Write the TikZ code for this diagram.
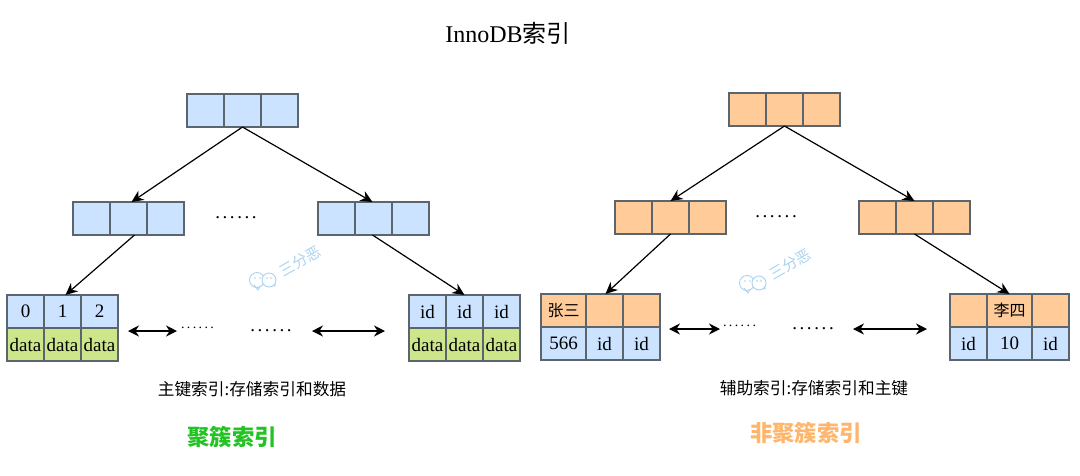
\documentclass[tikz,border=0pt]{standalone}
\usepackage{fontspec}
\setmainfont{Liberation Serif}
\newfontfamily\cjk{Noto Sans CJK SC}
\usetikzlibrary{arrows.meta}
\definecolor{cellblue}{HTML}{CCE3FF}
\definecolor{cellorange}{HTML}{FFCC99}
\definecolor{cellgreen}{HTML}{CDE68A}
\definecolor{celledge}{HTML}{5A6570}
\definecolor{wm}{HTML}{A9D3F0}
\definecolor{headgreen}{HTML}{22C322}
\definecolor{headorange}{HTML}{FFB56B}
\newcommand\sixdots[1]{.\kern#1.\kern#1.\kern#1.\kern#1.\kern#1.}
\tikzset{
  x=1pt,y=-1pt,
  cell/.style={draw=celledge,line width=1.2pt,inner sep=0pt,outer sep=0pt,anchor=north west,
    minimum height=33pt,font=\fontsize{19}{21}\selectfont},
  cblue/.style={cell,fill=cellblue},
  corange/.style={cell,fill=cellorange},
  cgreen/.style={cell,fill=cellgreen},
  w37/.style={minimum width=37pt},
  link/.style={draw=black,line width=1.2pt,-{Stealth[length=12pt,width=11pt]}},
  both/.style={draw=black,line width=1.2pt,{Stealth[length=11pt,width=11pt]}-{Stealth[length=11pt,width=11pt]}},
  dotsbig/.style={inner sep=0pt,font=\fontsize{19}{20}\selectfont},
  dotssmall/.style={inner sep=0pt,font=\fontsize{14}{16}\selectfont},
  caption/.style={inner sep=0pt,font=\cjk\fontsize{16.7}{18}\selectfont},
  heading/.style={inner sep=0pt,font=\cjk\bfseries\fontsize{22.3}{24}\selectfont},
  bubble/.style={draw=wm,line width=0.9pt},
}
\begin{document}
\begin{tikzpicture}
\useasboundingbox (0,0) rectangle (1080,475);
\node[inner sep=0pt,font=\fontsize{24}{26}\selectfont] (title) at (508,33) {InnoDB{\cjk 索引}};

% left tree
\node[cblue,w37] (r1) at (187,94) {};
\node[cblue,w37] (r2) at (224,94) {};
\node[cblue,w37] (r3) at (261,94) {};
\node[cblue,w37] (a1) at (73,202) {};
\node[cblue,w37] (a2) at (110,202) {};
\node[cblue,w37] (a3) at (147,202) {};
\node[cblue,w37] (b1) at (318,202) {};
\node[cblue,w37] (b2) at (355,202) {};
\node[cblue,w37] (b3) at (392,202) {};
\node[cblue,w37] (c1) at (7,295) {0};
\node[cblue,w37] (c2) at (44,295) {1};
\node[cblue,w37] (c3) at (81,295) {2};
\node[cgreen,w37] (d1) at (7,328) {data};
\node[cgreen,w37] (d2) at (44,328) {data};
\node[cgreen,w37] (d3) at (81,328) {data};
\node[cblue,w37] (e1) at (409,295) {id};
\node[cblue,w37] (e2) at (446,295) {id};
\node[cblue,w37] (e3) at (483,295) {id};
\node[cgreen,w37] (f1) at (409,328) {data};
\node[cgreen,w37] (f2) at (446,328) {data};
\node[cgreen,w37] (f3) at (483,328) {data};
\draw[link] (r2.south) -- ([xshift=3pt]a2.north);
\draw[link] (r2.south) -- ([xshift=-1pt]b2.north);
\draw[link] ([xshift=6pt]a2.south) -- ([xshift=3pt]c2.north);
\draw[link] ([xshift=-1pt]b2.south) -- (e2.north);
\node[dotsbig] (dl1) at (236,218) {\sixdots{2.6pt}};
\node[dotssmall] (dl2) at (197.5,328) {\sixdots{2.4pt}};
\node[dotsbig] (dl3) at (271,331) {\sixdots{2.6pt}};
\coordinate (p1) at (128,331); \coordinate (p2) at (177,331);
\coordinate (p3) at (312,331); \coordinate (p4) at (385,331);
\draw[both] (p1) -- (p2);
\draw[both] (p3) -- (p4);
\node[caption] (cl) at (252,389) {主键索引:存储索引和数据};
\node[heading,text=headgreen] (hl) at (232,437) {聚簇索引};

% right tree
\node[corange,w37] (s1) at (729,93) {};
\node[corange,w37] (s2) at (766,93) {};
\node[corange,w37] (s3) at (803,93) {};
\node[corange,w37] (g1) at (615,201) {};
\node[corange,w37] (g2) at (652,201) {};
\node[corange,w37] (g3) at (689,201) {};
\node[corange,w37] (h1) at (859,201) {};
\node[corange,w37] (h2) at (896,201) {};
\node[corange,w37] (h3) at (933,201) {};
\node[corange,minimum width=45pt] (i1) at (541,294) {\cjk\fontsize{16}{18}\selectfont 张三};
\node[corange,minimum width=37pt] (i2) at (586,294) {};
\node[corange,minimum width=37pt] (i3) at (623,294) {};
\node[cblue,minimum width=45pt] (j1) at (541,327) {566};
\node[cblue,minimum width=37pt] (j2) at (586,327) {id};
\node[cblue,minimum width=37pt] (j3) at (623,327) {id};
\node[corange,minimum width=37pt] (k1) at (950,294) {};
\node[corange,minimum width=45pt] (k2) at (987,294) {\cjk\fontsize{16}{18}\selectfont 李四};
\node[corange,minimum width=37pt] (k3) at (1032,294) {};
\node[cblue,minimum width=37pt] (l1) at (950,327) {id};
\node[cblue,minimum width=45pt] (l2) at (987,327) {10};
\node[cblue,minimum width=37pt] (l3) at (1032,327) {id};
\draw[link] (s2.south) -- (g2.north);
\draw[link] (s2.south) -- (h2.north);
\draw[link] (g2.south) -- ([xshift=1pt]i2.north);
\draw[link] (h2.south) -- (k2.north);
\node[dotsbig] (dr1) at (776,217) {\sixdots{2.6pt}};
\node[dotssmall] (dr2) at (739.5,326) {\sixdots{2.4pt}};
\node[dotsbig] (dr3) at (813,329) {\sixdots{2.6pt}};
\coordinate (q1) at (669,329); \coordinate (q2) at (720,329);
\coordinate (q3) at (853,329); \coordinate (q4) at (927,329);
\draw[both] (q1) -- (q2);
\draw[both] (q3) -- (q4);
\node[caption] (cr) at (814,388) {辅助索引:存储索引和主键};
\node[heading,text=headorange] (hr) at (806,433) {非聚簇索引};

% watermarks
\foreach \wx/\wy in {263/280,753/283}{
  \begin{scope}[shift={(\wx,\wy)}]
    \draw[bubble] (-9,5) -- (-5,10) -- (-3,6);
    \draw[bubble] (8,4) -- (12,6) -- (12,1);
    \draw[bubble] (-6,0) circle (7.5pt);
    \draw[bubble,fill=white] (6,0) circle (7pt);
    \fill[wm] (-8,-2) circle (0.9pt) (-3,-2) circle (0.9pt) (4,-2) circle (0.9pt) (8,-2) circle (0.9pt);
    \node[text=wm,inner sep=0pt,rotate=30,font=\cjk\fontsize{15}{16}\selectfont] at (37,-19) {三分恶};
  \end{scope}
}
\end{tikzpicture}
\end{document}
